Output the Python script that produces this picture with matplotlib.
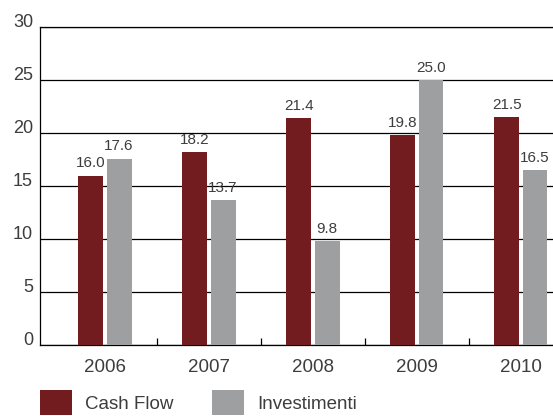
import numpy as np
import matplotlib
matplotlib.use("Agg")
import matplotlib.pyplot as plt
from matplotlib.ticker import FixedLocator

years = ["2006", "2007", "2008", "2009", "2010"]
cash_flow = [16.0, 18.2, 21.4, 19.8, 21.5]
investimenti = [17.6, 13.7, 9.8, 25.0, 16.5]
series_names = ["Cash Flow", "Investimenti"]
yticks = [0, 5, 10, 15, 20, 25, 30]

c_cf = "#731c20"
c_inv = "#9e9fa0"
txt = "#3d3d3d"

plt.rcParams['font.family'] = ['Liberation Sans', 'DejaVu Sans']

fig = plt.figure(figsize=(5.53, 4.16), dpi=100)
W, H = 553, 416
left, right, top, bottom = 40, 553, 27.3, 345.3
ax = fig.add_axes([left / W, (H - bottom) / H, (right - left) / W, (bottom - top) / H])

x = np.arange(len(years))
bw = 0.24
off = 0.135
b1 = ax.bar(x - off, cash_flow, bw, color=c_cf, label=series_names[0], zorder=3)
b2 = ax.bar(x + off, investimenti, bw, color=c_inv, label=series_names[1], zorder=3)

for bars, vals in ((b1, cash_flow), (b2, investimenti)):
    for r, v in zip(bars, vals):
        ax.annotate(f"{v:.1f}", (r.get_x() + r.get_width() / 2, v),
                    xytext=(0, 4), textcoords="offset points",
                    ha="center", va="bottom", fontsize=11, color=txt, zorder=4)

ax.set_xlim(-0.625, 4.308)
ax.set_ylim(0, 30)
ax.set_yticks(yticks)
ax.set_yticklabels([str(t) for t in yticks])
for lab in ax.get_yticklabels():
    lab.set_va("baseline")
ax.tick_params(axis="y", length=0, pad=5, labelsize=13, labelcolor=txt)

ax.set_xticks(x)
ax.set_xticklabels(years)
ax.tick_params(axis="x", which="major", length=0, pad=10, labelsize=13.5, labelcolor=txt)
ax.xaxis.set_minor_locator(FixedLocator(x[:-1] + 0.5))
ax.tick_params(axis="x", which="minor", direction="in", length=5, width=0.9, color="black")

ax.yaxis.grid(True, color="black", linewidth=0.9)
ax.set_axisbelow(True)
ax.spines["right"].set_visible(False)
for s in ["left", "bottom", "top"]:
    ax.spines[s].set_color("black")
    ax.spines[s].set_linewidth(0.9)

fs = 13.5
fpx = fs * 100 / 72
leg = ax.legend(handles=[b1, b2], labels=series_names, ncol=2, frameon=False,
                loc="upper left", bbox_to_anchor=(left / W, (H - 390) / H),
                bbox_transform=fig.transFigure, borderpad=0, borderaxespad=0,
                handlelength=32 / fpx, handleheight=32 / fpx,
                handletextpad=13 / fpx, columnspacing=39 / fpx,
                fontsize=fs, labelcolor=txt)

fig.savefig("out.png", dpi=100)
